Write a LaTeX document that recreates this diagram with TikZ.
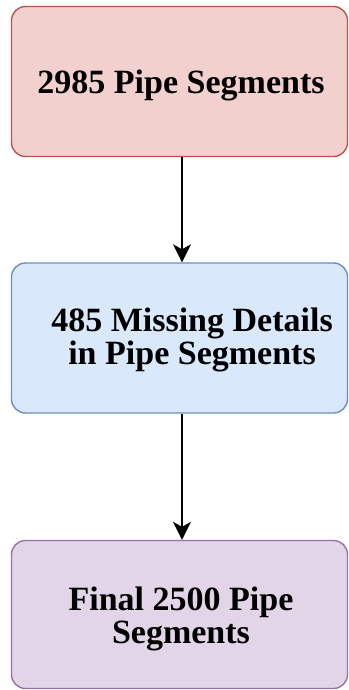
\documentclass[tikz,border=0pt]{standalone}
\usepackage{fontspec}
\setmainfont{Liberation Serif}
\usetikzlibrary{arrows.meta}
\definecolor{rfill}{HTML}{F2D0CD}
\definecolor{rdraw}{HTML}{B85450}
\definecolor{bfill}{HTML}{DAE8FC}
\definecolor{bdraw}{HTML}{6C8EBF}
\definecolor{pfill}{HTML}{E1D5E7}
\definecolor{pdraw}{HTML}{9673A6}
\tikzset{
  box/.style={rounded corners=14pt, line width=1.4pt, minimum width=336pt, minimum height=150pt, inner sep=0pt},
  txt/.style={font=\fontsize{34}{33}\selectfont\bfseries, align=center, inner sep=0pt},
  conn/.style={-{Stealth[length=18pt,width=18pt,inset=5pt]}, line width=1.4pt, black}
}
\begin{document}
\begin{tikzpicture}[x=1pt,y=-1pt]
\useasboundingbox (0,0) rectangle (348,690);
\node[box, fill=rfill, draw=rdraw] (a) at (179.5,81.5) {};
\node[txt] (at) at (181,85.5) {2985 Pipe Segments};
\node[box, fill=bfill, draw=bdraw] (b) at (179.5,338) {};
\node[txt] (bt) at (192,339.5) {485 Missing Details\\in Pipe Segments};
\node[box, fill=pfill, draw=pdraw, minimum height=148pt] (c) at (179.5,614.5) {};
\node[txt] (ct) at (181,619) {Final 2500 Pipe\\Segments};
\draw[conn] (a.south -| 182,0) -- (b.north -| 182,0);
\draw[conn] (b.south -| 182,0) -- (c.north -| 182,0);
\end{tikzpicture}
\end{document}
